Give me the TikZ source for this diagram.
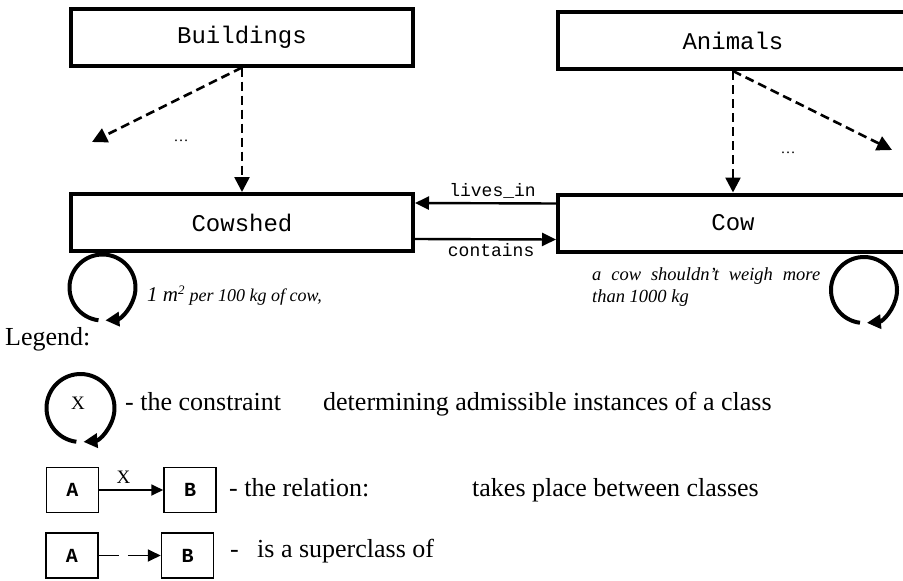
\documentclass[tikz,border=0pt]{standalone}
\usepackage{fontspec}
\setmainfont{Liberation Serif}
\newfontfamily\monofont{Liberation Mono}
\usetikzlibrary{arrows.meta}

\begin{document}
\begin{tikzpicture}[x=1pt,y=-1pt,
  classbox/.style={draw, line width=4pt, minimum width=342pt, minimum height=57pt,
    inner sep=0pt, font=\monofont\fontsize{24}{28}\selectfont},
  isa/.style={line width=2.6pt, dash pattern=on 9pt off 5pt,
    -{Triangle[length=15pt,width=15pt]}},
  rel/.style={line width=2.4pt, -{Triangle[length=14pt,width=13pt]}},
  reltext/.style={font=\monofont\fontsize{18}{20}\selectfont, inner sep=0pt},
  note/.style={font=\itshape\fontsize{18.5}{22}\selectfont, inner sep=0pt, anchor=base west},
  dotstext/.style={font=\fontsize{15}{18}\selectfont, inner sep=0pt, anchor=base},
  constraintarc/.style={line width=4pt, -{Triangle[length=14pt,width=14pt]}},
  legtext/.style={font=\fontsize{26}{30}\selectfont, inner sep=0pt, anchor=base west},
  legbox/.style={draw, line width=1.5pt, minimum width=52pt, minimum height=45pt,
    inner sep=0pt, font=\monofont\bfseries\fontsize{20}{24}\selectfont},
  legrel/.style={line width=1.8pt, -{Triangle[length=12pt,width=11pt]}},
  legisa/.style={line width=1.8pt, dash pattern=on 20pt off 9pt,
    -{Triangle[length=13pt,width=12pt]}},
  xmark/.style={font=\fontsize{19}{22}\selectfont, inner sep=0pt}
]
\useasboundingbox (0,0) rectangle (903,581);

% classes
\node[classbox] (bld) at (242,37) {Buildings};
\node[classbox] (shed) at (242,222.5) {Cowshed};
\node[classbox, minimum width=350pt] (anim) at (733,40.5) {Animals};
\node[classbox, minimum width=350pt] (cow) at (733,223) {Cow};

% inheritance (dashed) arrows
\coordinate (bldmore) at (92,142);
\coordinate (animmore) at (892,150);
\draw[isa] (bld.south) -- (shed.north);
\draw[isa] (bld.south) -- (bldmore);
\draw[isa] (anim.south) -- (cow.north);
\draw[isa] (anim.south) -- (animmore);
\node[dotstext] (dotsl) at (181,141) {…};
\node[dotstext] (dotsr) at (788,153) {…};

% relations between classes
\draw[rel] ([yshift=19.5pt]cow.west) -- node[reltext, pos=0.45, above=4pt] {lives\_in} ([yshift=19.5pt]shed.east);
\draw[rel] ([yshift=-16.5pt]shed.east) -- node[reltext, pos=0.54, below=3pt] {contains} ([yshift=-16.5pt]cow.west);

% constraints
\coordinate (shedloop) at (102.5,287.5);
\draw[constraintarc] (shedloop) ++(97:33) arc[start angle=97, end angle=445, radius=33];
\node[note] (shednote) at (147,301) {{\fontsize{21}{24}\selectfont 1 m}\textsuperscript{2} {\fontsize{18}{22}\selectfont per 100 kg of cow,}};

\coordinate (cowloop) at (864,290);
\draw[constraintarc] (cowloop) ++(97:33) arc[start angle=97, end angle=445, radius=33];
\node[note] (cownote1) at (592,280) {\makebox[228pt][s]{a cow shouldn’t weigh more}};
\node[note] (cownote2) at (592,302) {than 1000 kg};

% legend
\node[legtext] (legend) at (5,345) {Legend:};

\coordinate (legloop) at (80.5,408);
\draw[constraintarc] (legloop) ++(97:34) arc[start angle=97, end angle=445, radius=34];
\node[xmark] (legx) at (78,403) {X};
\node[legtext] (t1) at (125,410) {- the constraint};
\node[legtext] (t2) at (323,410) {determining admissible instances of a class};

\node[legbox] (a1) at (72.5,490) {A};
\node[legbox] (b1) at (190,490) {B};
\draw[legrel] (a1) -- node[xmark, above=6pt, pos=0.38] {X} (b1);
\node[legtext] (t3) at (229,496) {- the relation:};
\node[legtext] (t4) at (472,496) {takes place between classes};

\node[legbox] (a2) at (72,555.5) {A};
\node[legbox] (b2) at (187.5,555.5) {B};
\draw[legisa] (a2) -- (b2);
\node[legtext] (t5) at (230,557) {-};
\node[legtext] (t6) at (257,557) {is a superclass of};
\end{tikzpicture}
\end{document}
